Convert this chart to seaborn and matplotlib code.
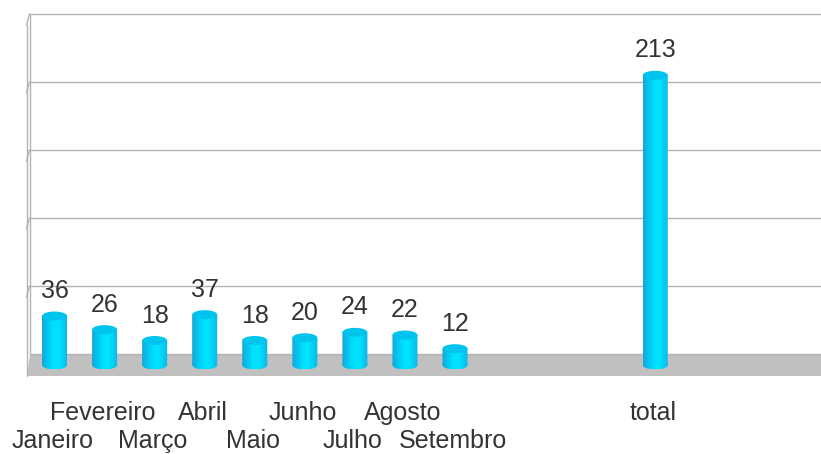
#!/usr/bin/env python3
import numpy as np
import matplotlib
matplotlib.use("Agg")
import matplotlib.pyplot as plt
import seaborn as sns
from matplotlib.colors import LinearSegmentedColormap
from matplotlib.patches import Ellipse, Polygon, PathPatch, Rectangle
from matplotlib.path import Path

# data
MONTHS = ["Janeiro", "Fevereiro", "Março", "Abril", "Maio", "Junho",
          "Julho", "Agosto", "Setembro"]
MONTH_VALUES = [36, 26, 18, 37, 18, 20, 24, 22, 12]
TOTAL_LABEL = "total"
TOTAL_VALUE = 213
GAP_SLOTS = ["_gap1", "_gap2", "_gap3"]
GRID_TICKS = [0, 50, 100, 150, 200, 250]

TEXT = "#333333"
GRID = "#b3b3b3"
FLOOR = "#c0c0c0"
W, H, DPI = 821, 454, 100
DEPTH_X, DEPTH_Y = 3, 11      # 3D offset of the back wall, px
CAP_H = 9                     # ellipse height of cylinder caps, px

categories = MONTHS + [TOTAL_LABEL]
values = MONTH_VALUES + [TOTAL_VALUE]
order = MONTHS + GAP_SLOTS + [TOTAL_LABEL]

sns.set_theme(style="white")
plt.rcParams["font.family"] = ["Liberation Sans", "DejaVu Sans"]

fig = plt.figure(figsize=(W / DPI, H / DPI), dpi=DPI, facecolor="white")
ax = fig.add_axes([29.5 / W, (H - 380) / H, (W - 29.5) / W, (380 - 15) / H])
ax.set_facecolor("none")

sns.barplot(x=categories, y=values, order=order, color="#00d4f8",
            width=0.5, errorbar=None, ax=ax)
bars = [p for p in ax.patches
        if isinstance(p, Rectangle) and np.isfinite(p.get_height()) and p.get_height() > 0]

slot_px = 50.06
xmax = -0.5 + (W - 29.5) / slot_px
ppu = 1.36
ax.set_xlim(-0.5, xmax)
ax.set_ylim(-15 / ppu, 350 / ppu)
for s in ax.spines.values():
    s.set_visible(False)
ax.set_xticks([])
ax.set_yticks([])
ax.set_xlabel("")
ax.set_ylabel("")

# px -> data helpers
fig.canvas.draw()
p0 = ax.transData.transform((0, 0))
p1 = ax.transData.transform((1, 1))
ux = p1[0] - p0[0]
uy = p1[1] - p0[1]
dx = DEPTH_X / ux
dy = DEPTH_Y / uy
x_left = -0.5

# floor slab
floor = Polygon([(x_left - dx, -dy), (xmax + 1, -dy), (xmax + 1, dy), (x_left, dy)],
                closed=True, facecolor=FLOOR, edgecolor="none", zorder=0.5, clip_on=False)
ax.add_patch(floor)

# back-wall grid lines and left wall
for v in GRID_TICKS:
    ax.plot([x_left, xmax + 1], [v + dy, v + dy], color=GRID, lw=1.0, zorder=0.6,
            clip_on=False, solid_capstyle="butt")
    if v > 0:
        ax.plot([x_left, x_left - dx], [v + dy, v], color=GRID, lw=1.0, zorder=0.6, clip_on=False)
ax.plot([x_left, x_left], [dy, GRID_TICKS[-1] + dy], color=GRID, lw=1.0, zorder=0.6, clip_on=False)
ax.plot([x_left - dx, x_left - dx], [-dy, GRID_TICKS[-1]], color=GRID, lw=1.0, zorder=0.6, clip_on=False)

# cylinders
body_cmap = LinearSegmentedColormap.from_list(
    "cyl", ["#16a6d8", "#05c4ef", "#00dcfc", "#00e6ff", "#03d2f6", "#12b4e4"])
cap_color = "#00c3ee"
grad = np.linspace(0, 1, 64).reshape(1, -1)
cap_h = CAP_H / uy

for p in bars:
    x0, w, h = p.get_x(), p.get_width(), p.get_height()
    cx = x0 + w / 2
    p.set_visible(False)
    rect = Path([(x0, 0), (x0 + w, 0), (x0 + w, h), (x0, h), (x0, 0)],
                [Path.MOVETO, Path.LINETO, Path.LINETO, Path.LINETO, Path.CLOSEPOLY])
    ell = Ellipse((cx, 0), w, cap_h)
    ell_path = ell.get_patch_transform().transform_path(ell.get_path())
    clip = PathPatch(Path.make_compound_path(rect, ell_path), transform=ax.transData,
                     facecolor="none", edgecolor="none")
    ax.add_patch(clip)
    im = ax.imshow(grad, extent=[x0, x0 + w, -cap_h / 2, h], aspect="auto",
                   cmap=body_cmap, zorder=3, interpolation="bilinear")
    im.set_clip_path(clip)
    ax.add_patch(Ellipse((cx, h), w, cap_h, facecolor=cap_color, edgecolor="none", zorder=4))
    ax.annotate(f"{h:.0f}", (cx, h), xytext=(0, 18), textcoords="offset pixels",
                ha="center", va="baseline", fontsize=18, color=TEXT, zorder=5)

ax.set_xlim(-0.5, xmax)
ax.set_ylim(-15 / ppu, 350 / ppu)

# staggered category labels
for i, name in enumerate(order):
    if name.startswith("_"):
        continue
    upper = (i % 2 == 1) or name == TOTAL_LABEL
    off = -55 if upper else -83
    ax.annotate(name, (i, 0), xytext=(-2, off), textcoords="offset pixels",
                ha="center", va="baseline", fontsize=18, color=TEXT,
                annotation_clip=False)

fig.savefig("out.png", dpi=DPI)
